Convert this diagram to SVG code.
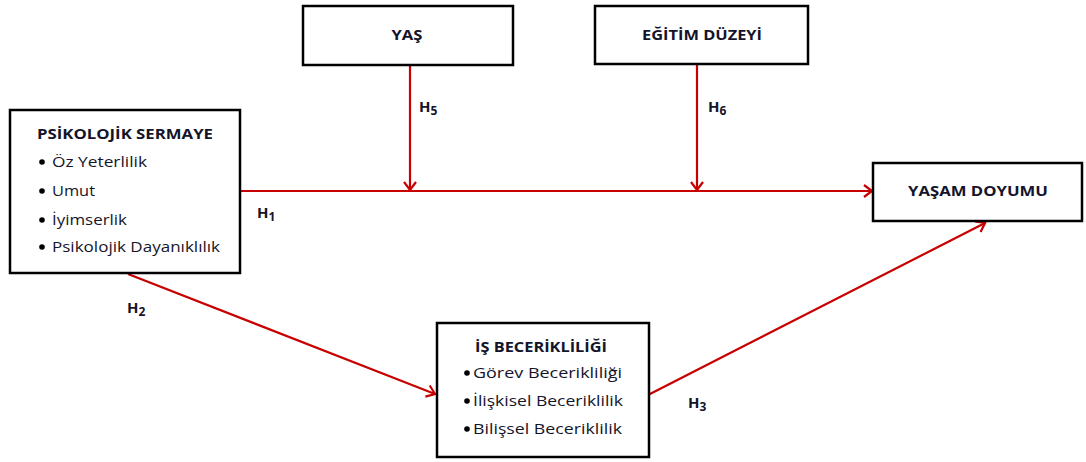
<svg xmlns="http://www.w3.org/2000/svg" width="1086" height="462" viewBox="0 0 1086 462">
  <style>
    .box { fill: #ffffff; stroke: #000000; stroke-width: 2.5; }
    .title { font-family: "Open Sans", "Liberation Sans", Arial, sans-serif; font-weight: bold; font-size: 15px; fill: #14142a; }
    .item { font-family: "Open Sans", "Liberation Sans", Arial, sans-serif; font-size: 15px; fill: #14142a; }
    .hyp { font-family: "Open Sans", "Liberation Sans", Arial, sans-serif; font-weight: bold; font-size: 15px; fill: #14142a; }
    .sub { font-size: 12px; }
    .dot { fill: #000000; }
    .link { stroke: #c80000; stroke-width: 2.2; fill: none; marker-end: url(#chev); }
  </style>
  <defs>
    <marker id="chev" markerUnits="userSpaceOnUse" markerWidth="16" markerHeight="16" refX="11" refY="7" orient="auto">
      <path d="M3,1 L11,7 L3,13" fill="none" stroke="#c80000" stroke-width="2.2"/>
    </marker>
  </defs>
  <rect width="1086" height="462" fill="#ffffff"/>

  <!-- connectors -->
  <g id="connectors">
    <line class="link" x1="240" y1="191" x2="872" y2="191"/>
    <line class="link" x1="410" y1="65" x2="410" y2="190"/>
    <line class="link" x1="697" y1="64" x2="697" y2="190"/>
    <line class="link" x1="128" y1="274" x2="435" y2="394"/>
    <line class="link" x1="648" y1="395" x2="985" y2="223"/>
    <text class="hyp" x="257" y="218">H<tspan class="sub" dy="3">1</tspan></text>
    <text class="hyp" x="127" y="313">H<tspan class="sub" dy="3">2</tspan></text>
    <text class="hyp" x="688" y="408">H<tspan class="sub" dy="3">3</tspan></text>
    <text class="hyp" x="419" y="112">H<tspan class="sub" dy="3">5</tspan></text>
    <text class="hyp" x="708" y="112">H<tspan class="sub" dy="3">6</tspan></text>
  </g>

  <!-- psychological capital -->
  <g id="psikolojik-sermaye">
    <rect class="box" x="10" y="110" width="230" height="163"/>
    <text class="title" x="37" y="139" textLength="176" lengthAdjust="spacingAndGlyphs">PSİKOLOJİK SERMAYE</text>
    <circle class="dot" cx="42" cy="162" r="2.8"/>
    <text class="item" x="52" y="167" textLength="95" lengthAdjust="spacingAndGlyphs">Öz Yeterlilik</text>
    <circle class="dot" cx="42" cy="191" r="2.8"/>
    <text class="item" x="52" y="196" textLength="43" lengthAdjust="spacingAndGlyphs">Umut</text>
    <circle class="dot" cx="42" cy="220" r="2.8"/>
    <text class="item" x="52" y="225" textLength="75" lengthAdjust="spacingAndGlyphs">İyimserlik</text>
    <circle class="dot" cx="42" cy="247" r="2.8"/>
    <text class="item" x="52" y="252" textLength="168" lengthAdjust="spacingAndGlyphs">Psikolojik Dayanıklılık</text>
  </g>

  <!-- age -->
  <g id="yas">
    <rect class="box" x="303" y="6" width="210" height="59"/>
    <text class="title" x="407" y="40" text-anchor="middle" textLength="31" lengthAdjust="spacingAndGlyphs">YAŞ</text>
  </g>

  <!-- education level -->
  <g id="egitim-duzeyi">
    <rect class="box" x="595" y="6" width="213" height="58"/>
    <text class="title" x="702" y="40" text-anchor="middle" textLength="120" lengthAdjust="spacingAndGlyphs">EĞİTİM DÜZEYİ</text>
  </g>

  <!-- life satisfaction -->
  <g id="yasam-doyumu">
    <rect class="box" x="873" y="163" width="209" height="58"/>
    <text class="title" x="978" y="196" text-anchor="middle" textLength="140" lengthAdjust="spacingAndGlyphs">YAŞAM DOYUMU</text>
  </g>

  <!-- job crafting -->
  <g id="is-becerikliligi">
    <rect class="box" x="437" y="323" width="212" height="134"/>
    <text class="title" x="475" y="352" textLength="132" lengthAdjust="spacingAndGlyphs">İŞ BECERİKLİLİĞİ</text>
    <circle class="dot" cx="467" cy="373" r="2.8"/>
    <text class="item" x="473" y="378" textLength="149" lengthAdjust="spacingAndGlyphs">Görev Becerikliliği</text>
    <circle class="dot" cx="467" cy="401" r="2.8"/>
    <text class="item" x="473" y="406" textLength="150" lengthAdjust="spacingAndGlyphs">İlişkisel Beceriklilik</text>
    <circle class="dot" cx="467" cy="429" r="2.8"/>
    <text class="item" x="473" y="434" textLength="149" lengthAdjust="spacingAndGlyphs">Bilişsel Beceriklilik</text>
  </g>
</svg>
